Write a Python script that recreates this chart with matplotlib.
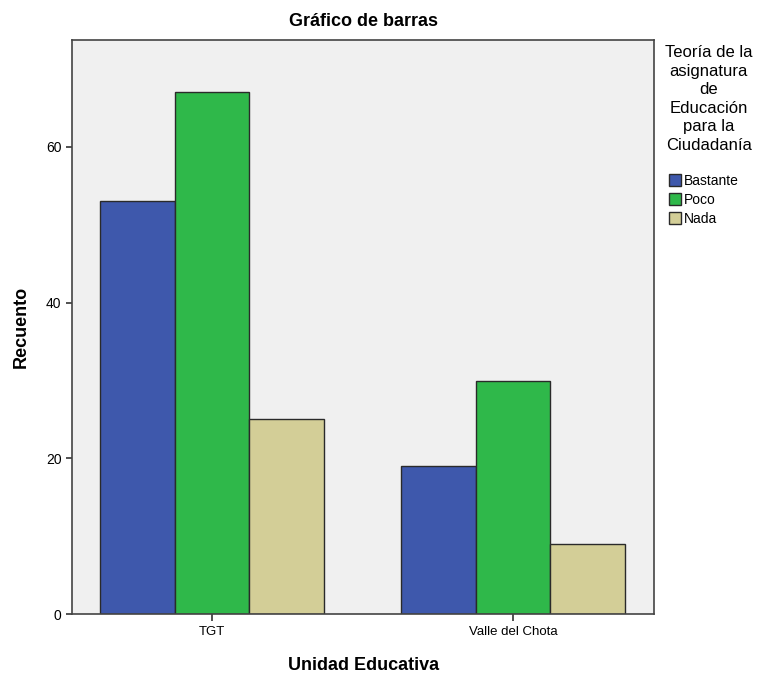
import numpy as np
import matplotlib
matplotlib.use("Agg")
import matplotlib.pyplot as plt

# ─── data ─────────────────────────────────────────────────────────
schools = ["TGT", "Valle del Chota"]
levels = ["Bastante", "Poco", "Nada"]
bastante = [53, 19]
poco = [67, 30]
nada = [25, 9]
colors = ["#3E58AC", "#2FB84A", "#D3CE97"]

plt.rcParams["font.family"] = ["Liberation Sans", "DejaVu Sans"]

fig = plt.figure(figsize=(7.58, 6.77), dpi=100)
ax = fig.add_axes([0.095, 0.093, 0.768, 0.848])
ax.set_facecolor("#F0F0F0")

x = np.arange(len(schools))
width = 0.2475
for i, (vals, lab) in enumerate(zip([bastante, poco, nada], levels)):
    ax.bar(x + (i - 1) * width, vals, width, color=colors[i],
           edgecolor="#2a2a2a", linewidth=1.0, label=lab, zorder=2)

ax.set_xlim(-0.465, 1.468)
ax.set_ylim(0, 73.75)
ax.set_xticks(x)
ax.set_xticklabels(schools, fontsize=9.5)
ax.set_yticks([0, 20, 40, 60])
ax.tick_params(axis="y", labelsize=10, length=4, width=1.2, color="#333333")
ax.tick_params(axis="x", length=5, width=1.2, color="#333333")
for sp in ax.spines.values():
    sp.set_color("#444444")
    sp.set_linewidth(1.2)

ax.set_title("Gráfico de barras", fontsize=13, fontweight="bold", pad=10)
ax.set_xlabel("Unidad Educativa", fontsize=13, fontweight="bold", labelpad=14)
ax.set_ylabel("Recuento", fontsize=13, fontweight="bold", labelpad=12)

# legend title drawn separately so the gap to the entries matches
fig.text(0.935, 1 - 45 / 677,
         "Teoría de la\nasignatura\nde\nEducación\npara la\nCiudadanía",
         ha="center", va="top", fontsize=12, linespacing=1.3,
         multialignment="center")
leg = ax.legend(loc="upper left", bbox_to_anchor=(0.882, 1 - 174 / 677),
                bbox_transform=fig.transFigure, frameon=False,
                fontsize=10, handlelength=0.9,
                handleheight=0.9, handletextpad=0.2, labelspacing=0.35,
                borderaxespad=0, borderpad=0)
for h in leg.legend_handles:
    h.set_edgecolor("#2a2a2a")

fig.savefig("out.png", dpi=100, facecolor="white")
